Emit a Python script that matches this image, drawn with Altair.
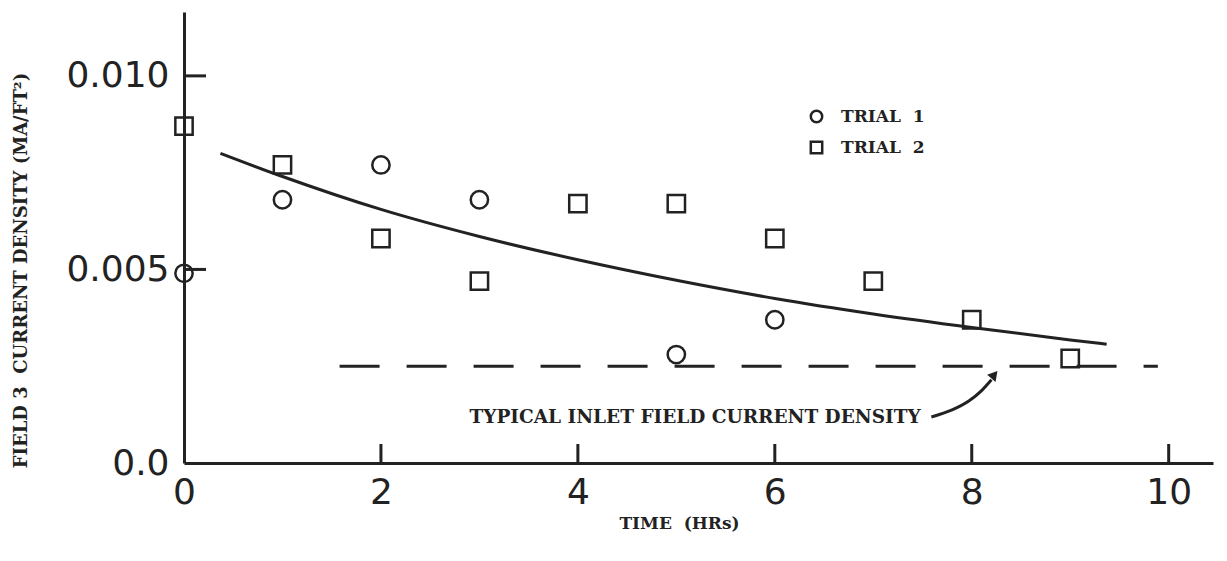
import altair as alt
import pandas as pd

# ---- data ----
trial1_x = [0, 1, 2, 3, 5, 6]
trial1_y = [0.0049, 0.0068, 0.0077, 0.0068, 0.0028, 0.0037]
trial2_x = [0, 1, 2, 3, 4, 5, 6, 7, 8, 9]
trial2_y = [0.0087, 0.0077, 0.0058, 0.0047, 0.0067, 0.0067, 0.0058, 0.0047, 0.0037, 0.0027]
fit_x = [0.37, 1, 2, 3, 4, 5, 6, 7, 8, 9, 9.37]
fit_y = [0.0080, 0.0074, 0.00655, 0.00585, 0.00525, 0.00472, 0.00425, 0.00385, 0.0035, 0.00318, 0.00307]
inlet_level = 0.0025
inlet_x = [1.58, 9.89]
legend_labels = ["TRIAL\u00a0 1", "TRIAL\u00a0 2"]
x_tick_values = [0, 2, 4, 6, 8, 10]
y_tick_values = [0.0, 0.005, 0.010]
x_inner_ticks = [2, 4, 6, 8, 10]
y_inner_ticks = [0.005, 0.010]
annot_text = "TYPICAL INLET FIELD CURRENT DENSITY"
annot_pos = (5.19, 0.00118)
arrow_x = [7.59, 7.80, 7.97, 8.10, 8.20]
arrow_y = [0.00119, 0.00137, 0.00160, 0.00187, 0.00215]
arrow_head = (8.23, 0.00228)

INK = "#222222"
W, H = 1029, 451

xs = alt.Scale(domain=[0, 10.45], nice=False, zero=False)
ys = alt.Scale(domain=[0, 0.01165], nice=False, zero=False)

xaxis = alt.Axis(
    values=x_tick_values, format="d", grid=False, ticks=False, labelFlush=False,
    domainColor=INK, domainWidth=3,
    labelFont="DejaVu Sans", labelFontSize=36, labelColor=INK, labelPadding=12,
    title="TIME\u00a0 (HRs)", titleFont="DejaVu Serif", titleFontWeight="bold",
    titleFontSize=17, titleColor=INK, titleX=495, titleY=60,
    titleAlign="center", titleBaseline="middle",
)
yaxis = alt.Axis(
    values=y_tick_values, grid=False, ticks=False, labelFlush=False,
    labelExpr="datum.value == 0 ? '0.0' : format(datum.value, '.3f')",
    domainColor=INK, domainWidth=3,
    labelFont="DejaVu Sans", labelFontSize=36, labelColor=INK, labelPadding=15,
    title="FIELD 3\u00a0 CURRENT DENSITY (MA/FT\u00b2)", titleFont="DejaVu Serif",
    titleFontWeight="bold", titleFontSize=18, titleColor=INK,
    titleX=-163, titleY=258, titleAlign="center", titleBaseline="middle",
)

X = alt.X("x:Q", scale=xs, axis=xaxis)
Y = alt.Y("y:Q", scale=ys, axis=yaxis)

pts = pd.DataFrame({
    "x": trial1_x + trial2_x,
    "y": trial1_y + trial2_y,
    "trial": [legend_labels[0]] * len(trial1_x) + [legend_labels[1]] * len(trial2_x),
})
fit = pd.DataFrame({"x": fit_x, "y": fit_y})
inlet = pd.DataFrame({"x": [inlet_x[0]], "x2": [inlet_x[1]], "y": [inlet_level]})
xt = pd.DataFrame({"x": x_inner_ticks})
yt = pd.DataFrame({"y": y_inner_ticks})
ann = pd.DataFrame({"x": [annot_pos[0]], "y": [annot_pos[1]], "t": [annot_text]})
arr = pd.DataFrame({"x": arrow_x, "y": arrow_y, "o": list(range(len(arrow_x)))})
head = pd.DataFrame({"x": [arrow_head[0]], "y": [arrow_head[1]]})

points = alt.Chart(pts).mark_point(filled=False, size=300, strokeWidth=2.5, color=INK, opacity=1).encode(
    x=X, y=Y,
    shape=alt.Shape("trial:N", scale=alt.Scale(domain=legend_labels, range=["circle", "square"]),
                    legend=alt.Legend(title=None, orient="none", legendX=624, legendY=96,
                                      labelFont="DejaVu Serif", labelFontWeight="bold",
                                      labelFontSize=17, labelColor=INK, symbolSize=130,
                                      symbolStrokeWidth=2.5, symbolStrokeColor=INK,
                                      symbolFillColor="transparent",
                                      rowPadding=8, labelOffset=16)),
)
curve = alt.Chart(fit).mark_line(color=INK, strokeWidth=3, interpolate="monotone").encode(x=X, y=Y)
dashed = alt.Chart(inlet).mark_rule(color=INK, strokeWidth=3, strokeDash=[40, 27]).encode(
    x=X, x2="x2:Q", y=Y)
xticks = alt.Chart(xt).mark_rule(color=INK, strokeWidth=3).encode(
    x=X, y=alt.value(H), y2=alt.value(H - 19))
yticks = alt.Chart(yt).mark_rule(color=INK, strokeWidth=3).encode(
    y=Y, x=alt.value(0), x2=alt.value(22))
annot = alt.Chart(ann).mark_text(font="DejaVu Serif", fontWeight="bold", fontSize=18.5,
                                 color=INK, align="center", baseline="middle").encode(
    x=X, y=Y, text="t:N")
arrow = alt.Chart(arr).mark_line(color=INK, strokeWidth=3, interpolate="monotone").encode(
    x=X, y=Y, order="o:O")
arrowhead = alt.Chart(head).mark_point(shape="triangle-up", filled=True, size=120,
                                       color=INK, angle=40, opacity=1).encode(x=X, y=Y)

chart = alt.layer(yticks, xticks, dashed, curve, arrow, arrowhead, annot, points).properties(
    width=W, height=H,
    autosize=alt.AutoSizeParams(type="none"),
    padding={"left": 176, "top": 4, "right": 6, "bottom": 90},
    background="white",
).configure_view(stroke=None)

chart.save("out.html", embed_options={"renderer": "svg", "actions": False})
